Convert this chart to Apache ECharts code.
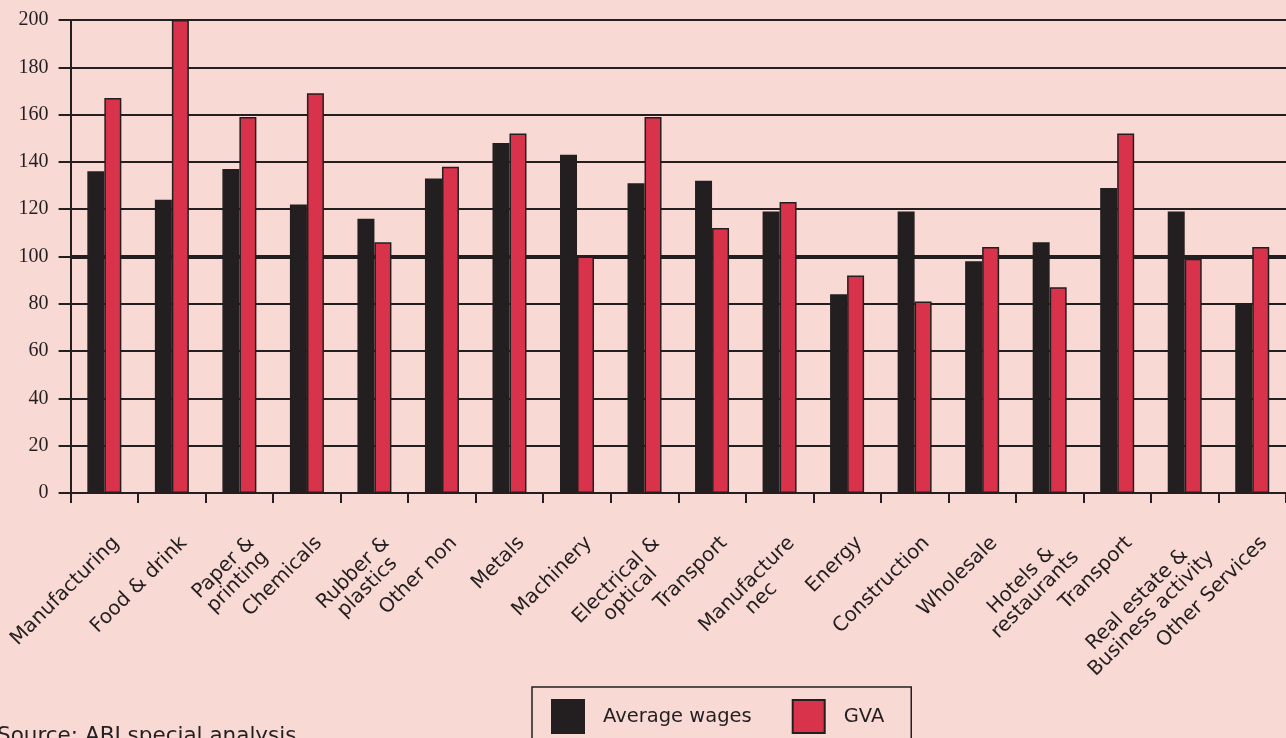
<!DOCTYPE html>
<html>
<head>
<meta charset="utf-8">
<script src="https://cdn.jsdelivr.net/npm/echarts@6/dist/echarts.min.js"></script>
<style>
html,body{margin:0;padding:0;background:#f8d9d4;}
#chart{width:1286px;height:738px;}
</style>
</head>
<body>
<div id="chart"></div>
<script>
var categories = ["Manufacturing", "Food & drink", "Paper &\nprinting", "Chemicals", "Rubber &\nplastics", "Other non", "Metals", "Machinery", "Electrical &\noptical", "Transport", "Manufacture\nnec", "Energy", "Construction", "Wholesale", "Hotels &\nrestaurants", "Transport", "Real estate &\nBusiness activity", "Other Services"];
var averageWages = [136, 124, 137, 122, 116, 133, 148, 143, 131, 132, 119, 84, 119, 98, 106, 129, 119, 80];
var gva = [167, 200, 159, 169, 106, 138, 152, 100, 159, 112, 123, 92, 81, 104, 87, 152, 99, 104];
var yTicks = [0, 20, 40, 60, 80, 100, 120, 140, 160, 180, 200];
var referenceLine = 100;
var sourceText = "Source: ABI special analysis";

var dark = '#231f20';
var red = '#d8334a';
var sans = '"DejaVu Sans", Verdana, sans-serif';
var serif = '"Liberation Serif", "Times New Roman", serif';
var labelFont = 20;
var lineGap = 20;
var shiftD = 7;

// split labels into first / second lines and compute centring pads
var ctx = document.createElement('canvas').getContext('2d');
ctx.font = labelFont + 'px ' + sans;
var line1 = [], line2 = [], pad1 = [], pad2 = [];
categories.forEach(function (c) {
  var parts = c.split('\n');
  var a = parts[0], b = parts[1] || '';
  var wa = ctx.measureText(a).width, wb = b ? ctx.measureText(b).width : 0;
  var W = Math.max(wa, wb);
  line1.push(a); line2.push(b);
  pad1.push((W - wa) / 2); pad2.push(b ? (W - wb) / 2 : 0);
});
var L1 = lineGap + 2 * shiftD;
var L2 = 3 * lineGap + 2 * shiftD;
function makeRich(pads, lh) {
  var r = {};
  pads.forEach(function (p, i) {
    r['t' + i] = {padding: [0, p, 0, 0], lineHeight: lh, verticalAlign: 'middle',
      fontFamily: sans, fontSize: labelFont, color: dark};
  });
  return r;
}
var rich1 = makeRich(pad1, L1), rich2 = makeRich(pad2, L2);

function labelCfg(rich, lh) {
  return {
    interval: 0, rotate: 45, margin: 35,
    align: 'right', verticalAlign: 'top',
    color: dark, fontFamily: sans, fontSize: labelFont, lineHeight: lh,
    formatter: function (v, i) { return v ? '{t' + i + '|' + v + '}' : ''; },
    rich: rich
  };
}

var chart = echarts.init(document.getElementById('chart'), null, {renderer: 'canvas'});
chart.setOption({
  backgroundColor: '#f8d9d4',
  animation: false,
  grid: {left: 70, top: 20, bottom: 245, right: -6, containLabel: false},
  legend: {
    left: 532, top: 687,
    orient: 'horizontal',
    itemWidth: 32, itemHeight: 33, itemGap: 40,
    padding: [12, 27, 12, 19],
    borderColor: dark, borderWidth: 1.5,
    icon: 'rect',
    textStyle: {fontFamily: sans, fontSize: 19.5, color: dark, padding: [0, 0, 0, 14]},
    data: ['Average wages', 'GVA']
  },
  xAxis: [{
    type: 'category',
    data: line1,
    boundaryGap: true,
    axisLine: {show: true, lineStyle: {color: dark, width: 2}},
    axisTick: {show: true, length: 10, lineStyle: {color: dark, width: 2}},
    axisLabel: labelCfg(rich1, L1),
    splitLine: {show: false}
  }, {
    type: 'category',
    data: line2,
    position: 'bottom',
    boundaryGap: true,
    axisLine: {show: false},
    axisTick: {show: false},
    axisLabel: labelCfg(rich2, L2),
    splitLine: {show: false}
  }],
  yAxis: {
    type: 'value',
    min: yTicks[0], max: yTicks[yTicks.length - 1], interval: 20,
    axisLine: {show: true, lineStyle: {color: dark, width: 2}},
    axisTick: {show: true, length: 12, lineStyle: {color: dark, width: 2}},
    axisLabel: {margin: 22, color: dark, fontFamily: serif, fontSize: 20},
    splitLine: {show: true, lineStyle: {color: dark, width: 2}}
  },
  series: [
    {
      name: 'Average wages', type: 'bar', data: averageWages,
      barWidth: 17, barGap: '0%',
      itemStyle: {color: dark, borderColor: dark, borderWidth: 1.5},
      markLine: {
        silent: true, symbol: 'none', z: 1,
        label: {show: false},
        lineStyle: {color: dark, width: 4, type: 'solid'},
        data: [{yAxis: referenceLine}]
      }
    },
    {
      name: 'GVA', type: 'bar', data: gva,
      barWidth: 17,
      itemStyle: {color: red, borderColor: dark, borderWidth: 1.5}
    }
  ],
  graphic: [{
    type: 'text', left: -3, top: 725,
    style: {text: sourceText, fill: dark, font: '21.5px ' + sans}
  }]
});
</script>
</body>
</html>
